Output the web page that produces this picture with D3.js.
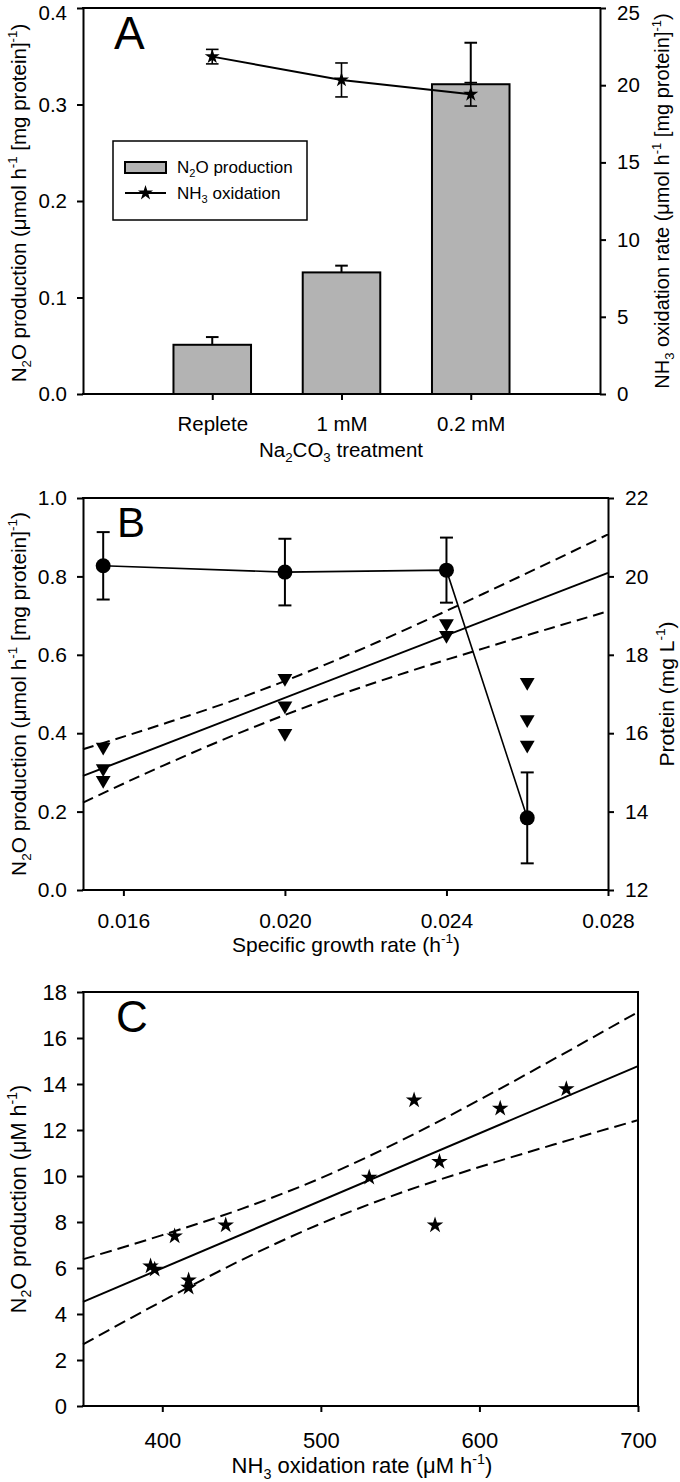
<!DOCTYPE html>
<html><head><meta charset="utf-8">
<script src="https://cdn.jsdelivr.net/npm/d3@7"></script>
<style>body{margin:0;background:#fff}svg{display:block}text{font-family:"Liberation Sans",Arial,sans-serif;fill:#000}</style>
</head><body>
<script>
// ---------- Panel A data ----------
const catsA = ["Replete", "1 mM", "0.2 mM"];
const n2oA = [0.051, 0.126, 0.321];
const n2oErrA = [0.008, 0.007, 0.043];
const nh3A = [21.85, 20.34, 19.41];
const nh3ErrA = [0.47, 1.1, 0.76];
const ticksAL = [0, 0.1, 0.2, 0.3, 0.4];
const ticksAR = [0, 5, 10, 15, 20, 25];

// ---------- Panel B data ----------
const rateB = [0.0155, 0.020, 0.024, 0.026];
const proteinB = [20.27, 20.11, 20.16, 13.84];
const proteinErrB = [0.86, 0.85, 0.83, 1.16];
const n2oBx = [0.0155, 0.0155, 0.0155, 0.020, 0.020, 0.020, 0.024, 0.024, 0.026, 0.026, 0.026];
const n2oBy = [0.365, 0.31, 0.28, 0.54, 0.47, 0.40, 0.68, 0.65, 0.53, 0.435, 0.37];
const fitBx = [0.015, 0.028];
const fitBy = [0.291, 0.809];
const bandBx = [0.015, 0.017, 0.019, 0.021, 0.023, 0.025, 0.028];
const bandBlo = [0.223, 0.318, 0.406, 0.485, 0.555, 0.619, 0.711];
const bandBhi = [0.359, 0.424, 0.494, 0.575, 0.665, 0.760, 0.907];
const ticksBL = [0, 0.2, 0.4, 0.6, 0.8, 1.0];
const ticksBR = [12, 14, 16, 18, 20, 22];
const ticksBX = [0.016, 0.020, 0.024, 0.028];

// ---------- Panel C data ----------
const nh3C = [392.6, 395.2, 407.8, 416.6, 416.6, 440, 530.5, 558.8, 572, 574.8, 613.1, 654.8];
const n2oC = [6.08, 5.94, 7.38, 5.47, 5.15, 7.86, 9.94, 13.3, 7.86, 10.62, 12.94, 13.78];
const fitCx = [350, 700];
const fitCy = [4.53, 14.78];
const bandCx = [350, 400, 450, 500, 550, 600, 650, 700];
const bandClo = [2.68, 4.56, 6.35, 7.93, 9.26, 10.39, 11.43, 12.43];
const bandChi = [6.38, 7.43, 8.57, 9.91, 11.52, 13.31, 15.20, 17.13];
const ticksCL = [0, 2, 4, 6, 8, 10, 12, 14, 16, 18];
const ticksCX = [400, 500, 600, 700];

const svg = d3.select("body").append("svg").attr("width", 680).attr("height", 1482);

// rich text: _{..} subscript, ^{..} superscript
function rich(sel, str, fs) {
  const re = /([_^])\{([^}]*)\}|([^_^]+)/g;
  let m, shift = 0;
  while ((m = re.exec(str)) !== null) {
    if (m[3] !== undefined) {
      sel.append("tspan").attr("dy", -shift).text(m[3]);
      shift = 0;
    } else {
      const d = m[1] === "_" ? 0.25 * fs : -0.42 * fs;
      sel.append("tspan").attr("dy", d - shift).attr("font-size", fs * 0.65).text(m[2]);
      shift = d;
    }
  }
}

function styleAxis(g, fs) {
  g.select(".domain").attr("stroke-width", 2).attr("stroke", "#000");
  g.selectAll(".tick line").attr("stroke-width", 2).attr("stroke", "#000");
  g.selectAll(".tick text").attr("font-size", fs).attr("font-family", '"Liberation Sans",Arial,sans-serif').attr("fill", "#000");
}

function hline(x0, x1, y) {
  svg.append("line").attr("x1", x0).attr("x2", x1).attr("y1", y).attr("y2", y).attr("stroke", "#000").attr("stroke-width", 2);
}
function vline(x, y0, y1) {
  svg.append("line").attr("x1", x).attr("x2", x).attr("y1", y0).attr("y2", y1).attr("stroke", "#000").attr("stroke-width", 2);
}
function errBar(g, x, yTop, yBot, half, sw) {
  g.append("line").attr("x1", x).attr("x2", x).attr("y1", yTop).attr("y2", yBot).attr("stroke", "#000").attr("stroke-width", sw);
  g.append("line").attr("x1", x - half).attr("x2", x + half).attr("y1", yTop).attr("y2", yTop).attr("stroke", "#000").attr("stroke-width", sw);
  g.append("line").attr("x1", x - half).attr("x2", x + half).attr("y1", yBot).attr("y2", yBot).attr("stroke", "#000").attr("stroke-width", sw);
}
function rotTitle(x, yc, str, fs) {
  const t = svg.append("text").attr("transform", `translate(${x},${yc}) rotate(-90)`).attr("text-anchor", "middle").attr("font-size", fs);
  rich(t, str, fs);
}
function title(x, y, str, fs) {
  const t = svg.append("text").attr("x", x).attr("y", y).attr("text-anchor", "middle").attr("font-size", fs);
  rich(t, str, fs);
}

// ===================== Panel A =====================
{
  const x0 = 83, x1 = 600, y0 = 8, y1 = 394, fs = 20.5;
  const w = x1 - x0;
  const x = d3.scalePoint().domain(catsA).range([x0 + w / 4, x1 - w / 4]);
  const yL = d3.scaleLinear().domain([0, 0.4]).range([y1, y0]);
  const yR = d3.scaleLinear().domain([0, 25]).range([y1, y0]);
  const barW = w / 4 * 0.6;
  const g = svg.append("g");

  catsA.forEach((c, i) => {
    const cx = x(c);
    g.append("line").attr("x1", cx).attr("x2", cx).attr("y1", yL(n2oA[i])).attr("y2", yL(n2oA[i] + n2oErrA[i])).attr("stroke", "#000").attr("stroke-width", 2);
    g.append("line").attr("x1", cx - 6.3).attr("x2", cx + 6.3).attr("y1", yL(n2oA[i] + n2oErrA[i])).attr("y2", yL(n2oA[i] + n2oErrA[i])).attr("stroke", "#000").attr("stroke-width", 2);
    g.append("rect").attr("x", cx - barW / 2).attr("y", yL(n2oA[i])).attr("width", barW).attr("height", yL(0) - yL(n2oA[i]))
      .attr("fill", "#b3b3b3").attr("stroke", "#000").attr("stroke-width", 2);
  });
  g.append("path").datum(catsA.map((c, i) => [x(c), yR(nh3A[i])]))
    .attr("d", d3.line()).attr("fill", "none").attr("stroke", "#000").attr("stroke-width", 2);
  catsA.forEach((c, i) => {
    errBar(g, x(c), yR(nh3A[i] + nh3ErrA[i]), yR(nh3A[i] - nh3ErrA[i]), 6.3, 1.6);
    g.append("path").attr("d", d3.symbol(d3.symbolStar, 70)()).attr("transform", `translate(${x(c)},${yR(nh3A[i])})`).attr("fill", "#000");
  });

  const ax = svg.append("g").attr("transform", `translate(${x0},0)`)
    .call(d3.axisLeft(yL).tickValues(ticksAL).tickFormat(d3.format(".1f")).tickSize(6).tickSizeOuter(0).tickPadding(10));
  styleAxis(ax, fs);
  ax.selectAll(".tick text").filter(d => d === 0.4).attr("dy", "0.56em");
  const axR = svg.append("g").attr("transform", `translate(${x1},0)`)
    .call(d3.axisRight(yR).tickValues(ticksAR).tickSize(6).tickSizeOuter(0).tickPadding(11));
  styleAxis(axR, fs);
  axR.selectAll(".tick text").filter(d => d === 25).attr("dy", "0.56em");
  const axB = svg.append("g").attr("transform", `translate(0,${y1})`)
    .call(d3.axisBottom(x).tickSize(6).tickSizeOuter(0).tickPadding(16));
  axB.select(".domain").remove();
  styleAxis(axB, fs);
  hline(x0 - 1, x1 + 1, y1);
  hline(x0 - 1, x1 + 1, y0);

  // legend
  svg.append("rect").attr("x", 113).attr("y", 141).attr("width", 194).attr("height", 79).attr("fill", "#fff").attr("stroke", "#000").attr("stroke-width", 1.5);
  svg.append("rect").attr("x", 125).attr("y", 162).attr("width", 41).attr("height", 11).attr("fill", "#b3b3b3").attr("stroke", "#000").attr("stroke-width", 2);
  const lt1 = svg.append("text").attr("x", 177).attr("y", 173).attr("font-size", 17);
  rich(lt1, "N_{2}O production", 17);
  svg.append("line").attr("x1", 125).attr("x2", 166).attr("y1", 193).attr("y2", 193).attr("stroke", "#000").attr("stroke-width", 2);
  svg.append("path").attr("d", d3.symbol(d3.symbolStar, 70)()).attr("transform", `translate(145.5,193)`).attr("fill", "#000");
  const lt2 = svg.append("text").attr("x", 177).attr("y", 199).attr("font-size", 17);
  rich(lt2, "NH_{3} oxidation", 17);

  svg.append("text").attr("x", 114).attr("y", 49).attr("font-size", 46).text("A");
  rotTitle(26, (y0 + y1) / 2 + 2, "N_{2}O production (μmol h^{-1} [mg protein]^{-1})", 20.5);
  rotTitle(669, (y0 + y1) / 2, "NH_{3} oxidation rate (μmol h^{-1} [mg protein]^{-1})", 20);
  title(341, 457, "Na_{2}CO_{3} treatment", fs);
}

// ===================== Panel B =====================
{
  const x0 = 83, x1 = 608, y0 = 498, y1 = 890, fs = 21;
  const x = d3.scaleLinear().domain([0.015, 0.028]).range([x0, x1]);
  const yL = d3.scaleLinear().domain([0, 1.0]).range([y1, y0]);
  const yR = d3.scaleLinear().domain([12, 22]).range([y1, y0]);
  const g = svg.append("g");

  g.append("path").datum(fitBx.map((v, i) => [x(v), yL(fitBy[i])])).attr("d", d3.line())
    .attr("fill", "none").attr("stroke", "#000").attr("stroke-width", 2);
  const bl = d3.line().curve(d3.curveMonotoneX);
  [bandBlo, bandBhi].forEach(arr => {
    g.append("path").datum(bandBx.map((v, i) => [x(v), yL(arr[i])])).attr("d", bl)
      .attr("fill", "none").attr("stroke", "#000").attr("stroke-width", 2).attr("stroke-dasharray", "11,6");
  });
  n2oBx.forEach((v, i) => {
    g.append("path").attr("d", d3.symbol(d3.symbolTriangle, 95)())
      .attr("transform", `translate(${x(v)},${yL(n2oBy[i])}) rotate(180)`).attr("fill", "#000");
  });
  g.append("path").datum(rateB.map((v, i) => [x(v), yR(proteinB[i])])).attr("d", d3.line())
    .attr("fill", "none").attr("stroke", "#000").attr("stroke-width", 1.6);
  rateB.forEach((v, i) => {
    errBar(g, x(v), yR(proteinB[i] + proteinErrB[i]), yR(proteinB[i] - proteinErrB[i]), 6.5, 2);
    g.append("circle").attr("cx", x(v)).attr("cy", yR(proteinB[i])).attr("r", 7.5).attr("fill", "#000");
  });

  const ax = svg.append("g").attr("transform", `translate(${x0},0)`)
    .call(d3.axisLeft(yL).tickValues(ticksBL).tickFormat(d3.format(".1f")).tickSize(6).tickSizeOuter(0).tickPadding(10));
  styleAxis(ax, fs);
  const axR = svg.append("g").attr("transform", `translate(${x1},0)`)
    .call(d3.axisRight(yR).tickValues(ticksBR).tickSize(6).tickSizeOuter(0).tickPadding(11));
  styleAxis(axR, fs);
  const axB = svg.append("g").attr("transform", `translate(0,${y1})`)
    .call(d3.axisBottom(x).tickValues(ticksBX).tickFormat(d3.format(".3f")).tickSize(6).tickSizeOuter(0).tickPadding(17));
  axB.select(".domain").remove();
  styleAxis(axB, fs);
  hline(x0 - 1, x1 + 1, y1);
  hline(x0 - 1, x1 + 1, y0);

  svg.append("text").attr("x", 117).attr("y", 537).attr("font-size", 42).text("B");
  rotTitle(26, (y0 + y1) / 2, "N_{2}O production (μmol h^{-1} [mg protein]^{-1})", 20.8);
  rotTitle(674, (y0 + y1) / 2, "Protein (mg L^{-1})", 21);
  title(346, 952, "Specific growth rate (h^{-1})", fs);
}

// ===================== Panel C =====================
{
  const x0 = 83, x1 = 638, y0 = 992, y1 = 1406, fs = 22;
  const x = d3.scaleLinear().domain([350, 700]).range([x0, x1]);
  const y = d3.scaleLinear().domain([0, 18]).range([y1, y0]);
  const g = svg.append("g");

  g.append("path").datum(fitCx.map((v, i) => [x(v), y(fitCy[i])])).attr("d", d3.line())
    .attr("fill", "none").attr("stroke", "#000").attr("stroke-width", 2);
  const bl = d3.line().curve(d3.curveMonotoneX);
  [bandClo, bandChi].forEach(arr => {
    g.append("path").datum(bandCx.map((v, i) => [x(v), y(arr[i])])).attr("d", bl)
      .attr("fill", "none").attr("stroke", "#000").attr("stroke-width", 2).attr("stroke-dasharray", "12,6");
  });
  nh3C.forEach((v, i) => {
    g.append("path").attr("d", d3.symbol(d3.symbolStar, 85)()).attr("transform", `translate(${x(v)},${y(n2oC[i])})`).attr("fill", "#000");
  });

  const ax = svg.append("g").attr("transform", `translate(${x0},0)`)
    .call(d3.axisLeft(y).tickValues(ticksCL).tickSize(6).tickSizeOuter(0).tickPadding(10));
  styleAxis(ax, fs);
  const axB = svg.append("g").attr("transform", `translate(0,${y1})`)
    .call(d3.axisBottom(x).tickValues(ticksCX).tickSize(6).tickSizeOuter(0).tickPadding(20));
  axB.select(".domain").remove();
  styleAxis(axB, fs);
  hline(x0 - 1, x1 + 1, y1);
  hline(x0 - 1, x1 + 1, y0);
  vline(x1, y0 - 1, y1 + 1);

  svg.append("text").attr("x", 116).attr("y", 1032).attr("font-size", 44).text("C");
  rotTitle(26, (y0 + y1) / 2, "N_{2}O production (μM h^{-1})", 21.6);
  title(362, 1473, "NH_{3} oxidation rate (μM h^{-1})", fs);
}
</script>
</body></html>
